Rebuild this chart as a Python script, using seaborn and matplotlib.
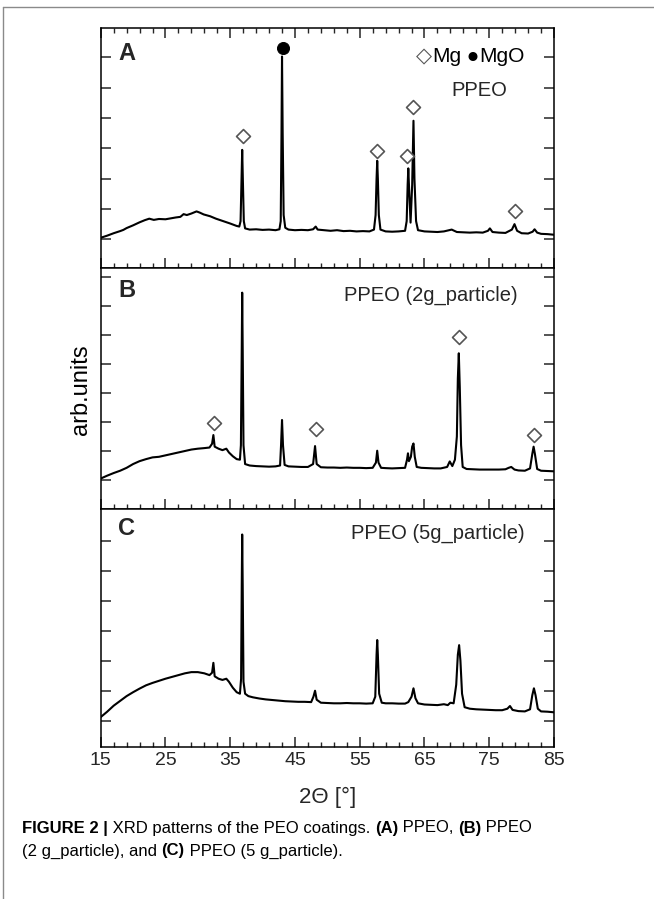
import matplotlib
matplotlib.use("Agg")
import matplotlib.pyplot as plt
from matplotlib.lines import Line2D
import seaborn as sns
import numpy as np

# ---------------- data ----------------
# Panel A : PPEO
A_x = [15.0, 16.0, 17.0, 18.0, 18.5, 19.0, 20.0, 21.0, 21.8, 22.5, 23.2, 24.0, 25.0, 25.8, 26.6,
       27.3, 27.8, 28.3, 29.0, 29.8, 30.3, 30.9, 31.9, 32.8, 33.9, 35.0, 36.0, 36.4,
       36.6, 36.75, 36.85, 36.95, 37.1, 37.3, 38.0, 39.0, 40.0, 41.0, 42.0, 42.6,
       42.8, 42.92, 43.0, 43.1, 43.25, 43.5, 44.0, 45.0, 46.0, 47.0, 47.8, 48.2, 48.5,
       49.5, 50.5, 51.5, 52.5, 53.5, 54.5, 55.5, 56.5, 57.2,
       57.45, 57.6, 57.7, 57.8, 57.95, 58.2, 59.0, 60.0, 61.0, 62.0,
       62.25, 62.4, 62.5, 62.6, 62.85, 63.1, 63.3, 63.45, 63.7, 64.0,
       65.0, 66.0, 67.0, 68.0, 69.2, 70.0, 71.0, 72.0, 73.0, 74.0, 74.8, 75.1, 75.5,
       76.5, 77.5, 78.5, 78.9, 79.3, 80.0, 81.0, 81.7, 82.0, 82.4, 83.0, 84.0, 85.0]
A_y = [0.05, 0.12, 0.20, 0.27, 0.31, 0.37, 0.46, 0.56, 0.63, 0.68, 0.64, 0.67, 0.66, 0.69, 0.72,
       0.74, 0.83, 0.80, 0.85, 0.92, 0.88, 0.82, 0.76, 0.68, 0.60, 0.52, 0.44, 0.42,
       0.60, 2.00, 2.95, 2.00, 0.60, 0.36, 0.32, 0.33, 0.31, 0.32, 0.30, 0.33,
       0.60, 3.50, 6.03, 3.50, 0.80, 0.38, 0.32, 0.30, 0.31, 0.30, 0.33, 0.42, 0.32,
       0.30, 0.28, 0.30, 0.27, 0.28, 0.26, 0.27, 0.26, 0.32,
       0.80, 2.00, 2.59, 2.00, 0.80, 0.32, 0.26, 0.25, 0.26, 0.28,
       0.60, 1.80, 2.34, 1.80, 0.55, 1.80, 3.91, 2.00, 0.60, 0.30,
       0.26, 0.25, 0.24, 0.26, 0.32, 0.24, 0.23, 0.22, 0.23, 0.22, 0.28, 0.36, 0.24,
       0.22, 0.21, 0.32, 0.50, 0.28, 0.20, 0.19, 0.25, 0.33, 0.22, 0.18, 0.17, 0.15]
A_mg_x = [36.9, 57.7, 62.3, 63.2, 79.0]
A_mg_y = [3.41, 2.92, 2.75, 4.36, 0.94]
A_mgo_x = [43.2]
A_mgo_y = [6.30]

# Panel B : PPEO (2g_particle)
B_x = [15.0, 16.0, 17.0, 18.0, 19.0, 20.0, 21.0, 22.0, 23.0, 24.0, 25.0, 26.0, 27.0, 28.0,
       29.0, 30.0, 31.0, 31.8, 32.2, 32.4, 32.6, 33.2, 33.8, 34.4, 34.8, 35.4, 36.0, 36.5,
       36.65, 36.78, 36.85, 36.93, 37.05, 37.3, 38.0, 39.0, 40.0, 41.0, 42.0, 42.7,
       42.85, 43.0, 43.15, 43.4, 44.0, 45.0, 46.0, 47.0, 47.8, 48.1, 48.35,
       49.0, 50.0, 51.0, 52.0, 53.0, 54.0, 55.0, 56.0, 57.0, 57.5, 57.7, 57.9, 58.3,
       59.0, 60.0, 61.0, 62.0, 62.3, 62.45, 62.6, 62.9, 63.1, 63.3, 63.5, 63.8,
       64.5, 65.5, 66.5, 67.5, 68.5, 68.9, 69.3, 69.7, 70.0, 70.15, 70.3, 70.45, 70.65, 70.9,
       71.5, 72.5, 73.5, 74.5, 75.5, 76.5, 77.5, 78.0, 78.4, 78.9, 79.5, 80.5, 81.3,
       81.65, 81.85, 82.05, 82.4, 83.0, 84.0, 85.0]
B_y = [0.05, 0.15, 0.24, 0.32, 0.42, 0.55, 0.65, 0.72, 0.78, 0.80, 0.85, 0.90, 0.95, 1.00,
       1.05, 1.08, 1.10, 1.12, 1.25, 1.55, 1.15, 1.08, 1.03, 1.08, 0.95, 0.82, 0.72, 0.70,
       1.20, 4.50, 6.46, 4.50, 1.20, 0.55, 0.50, 0.48, 0.47, 0.46, 0.47, 0.50,
       1.20, 2.07, 1.20, 0.52, 0.47, 0.46, 0.45, 0.45, 0.55, 1.17, 0.55,
       0.44, 0.43, 0.43, 0.42, 0.43, 0.42, 0.42, 0.41, 0.42, 0.60, 1.01, 0.60, 0.42,
       0.41, 0.40, 0.41, 0.42, 0.70, 0.92, 0.65, 0.80, 1.15, 1.26, 0.80, 0.45,
       0.42, 0.41, 0.40, 0.40, 0.45, 0.64, 0.48, 0.70, 1.50, 3.50, 4.37, 3.20, 1.20, 0.45,
       0.38, 0.37, 0.36, 0.36, 0.36, 0.36, 0.37, 0.42, 0.45, 0.36, 0.33, 0.32, 0.40,
       0.90, 1.15, 0.90, 0.38, 0.32, 0.31, 0.30]
B_mg_x = [32.5, 48.2, 70.3, 81.9]
B_mg_y = [1.98, 1.76, 4.94, 1.55]

# Panel C : PPEO (5g_particle)
C_x = [15.0, 16.0, 17.0, 18.0, 19.0, 20.0, 21.0, 22.0, 23.0, 24.0, 25.0, 26.0, 27.0, 28.0,
       29.0, 30.0, 31.0, 31.8, 32.2, 32.4, 32.6, 33.2, 33.8, 34.4, 34.8, 35.4, 36.0, 36.5,
       36.68, 36.78, 36.85, 36.93, 37.05, 37.3, 37.8, 38.5, 39.5, 40.5, 41.5, 42.5, 43.5,
       44.5, 45.5, 46.5, 47.5, 47.85, 48.1, 48.35, 49.0, 50.0, 51.0, 52.0, 53.0, 54.0,
       55.0, 56.0, 57.0, 57.4, 57.6, 57.7, 57.8, 58.0, 58.4, 59.0, 60.0, 61.0, 62.0,
       62.5, 63.0, 63.3, 63.6, 64.0, 65.0, 66.0, 67.0, 68.0, 68.6, 69.0, 69.5, 69.9,
       70.15, 70.35, 70.55, 70.8, 71.2, 72.0, 73.0, 74.0, 75.0, 76.0, 77.0, 77.8, 78.2,
       78.6, 79.5, 80.5, 81.3, 81.65, 81.9, 82.15, 82.5, 83.0, 84.0, 85.0]
C_y = [0.12, 0.30, 0.50, 0.66, 0.82, 0.95, 1.07, 1.18, 1.26, 1.33, 1.40, 1.46, 1.52, 1.58,
       1.62, 1.62, 1.58, 1.52, 1.60, 1.93, 1.48, 1.40, 1.36, 1.40, 1.30, 1.10, 0.95, 0.90,
       1.40, 4.50, 6.21, 4.50, 1.30, 0.90, 0.82, 0.78, 0.74, 0.71, 0.69, 0.67, 0.65,
       0.64, 0.63, 0.63, 0.62, 0.80, 1.00, 0.70, 0.60, 0.59, 0.58, 0.58, 0.59, 0.58,
       0.58, 0.57, 0.58, 0.80, 2.20, 2.69, 2.20, 0.90, 0.60, 0.58, 0.58, 0.57, 0.57,
       0.62, 0.80, 1.08, 0.75, 0.58, 0.54, 0.53, 0.52, 0.55, 0.52, 0.60, 0.58, 1.20,
       2.20, 2.52, 2.00, 0.90, 0.45, 0.40, 0.38, 0.37, 0.36, 0.35, 0.35, 0.40, 0.49,
       0.36, 0.32, 0.31, 0.38, 0.85, 1.08, 0.85, 0.40, 0.31, 0.30, 0.28]

panel_letters = ["A", "B", "C"]
panel_titles = ["PPEO", "PPEO (2g_particle)", "PPEO (5g_particle)"]
legend_labels = ["Mg", "MgO"]
x_ticks = [15, 25, 35, 45, 55, 65, 75, 85]
x_label = "2\u0398 [\u00b0]"
y_label = "arb.units"

# ---------------- figure ----------------
sns.set_style("ticks")
FONT = ["Liberation Sans", "DejaVu Sans"]
plt.rcParams["font.family"] = FONT
plt.rcParams["axes.linewidth"] = 1.1

W, H = 654, 899
fig = plt.figure(figsize=(W / 100, H / 100), dpi=100)

left, right = 100.7, 554.0
panels_px = [(27.7, 268.3), (268.3, 509.3), (509.3, 746.7)]
ylims = [(-0.957, 6.98), (-1.01, 7.3), (-0.867, 7.05)]
yticks = [range(0, 7), range(0, 8), range(0, 7)]
data = [(A_x, A_y), (B_x, B_y), (C_x, C_y)]
letter_pos = [0.891, 0.908, 0.919]
title_pos = [(0.835, 0.741), (0.728, 0.889), (0.744, 0.900)]

axes = []
for i, (top, bot) in enumerate(panels_px):
    ax = fig.add_axes([left / W, 1 - bot / H, (right - left) / W, (bot - top) / H])
    axes.append(ax)
    xs, ys = data[i]
    sns.lineplot(x=xs, y=ys, ax=ax, color="black", linewidth=1.5,
                 sort=False, estimator=None)
    ax.set_xlim(15, 85)
    ax.set_ylim(*ylims[i])
    ax.set_xticks(x_ticks)
    ax.set_xticks([t for t in range(15, 86) if (t - 15) % 2 == 0 and (t - 15) % 10 != 0], minor=True)
    ax.set_yticks(list(yticks[i]))
    ax.tick_params(axis="x", which="major", direction="in", length=7, width=1.1,
                   top=(i == 0), bottom=True, labelbottom=(i == 2), labelsize=14, pad=4)
    ax.tick_params(axis="x", which="minor", direction="in", length=3.5, width=1.0,
                   top=(i == 0), bottom=True)
    ax.tick_params(axis="y", which="major", direction="in", length=7, width=1.1,
                   left=True, right=True, labelleft=False)
    ax.set_xlabel("")
    ax.set_ylabel("")
    for s in ax.spines.values():
        s.set_color("black")
    ax.text(0.058, letter_pos[i], panel_letters[i], transform=ax.transAxes,
            fontsize=17, fontweight="bold", ha="center", va="center")
    ax.text(title_pos[i][0], title_pos[i][1], panel_titles[i], transform=ax.transAxes,
            fontsize=14.5, ha="center", va="center")

# peak markers
sns.scatterplot(x=A_mg_x, y=A_mg_y, ax=axes[0], marker="D", s=50,
                facecolor="white", edgecolor="#555555", linewidth=1.2, zorder=5)
sns.scatterplot(x=A_mgo_x, y=A_mgo_y, ax=axes[0], marker="o", s=75,
                color="black", edgecolor="black", zorder=5)
sns.scatterplot(x=B_mg_x, y=B_mg_y, ax=axes[1], marker="D", s=50,
                facecolor="white", edgecolor="#555555", linewidth=1.2, zorder=5)

fig.canvas.draw()
renderer = fig.canvas.get_renderer()


def rich(x_px, y_px, parts, size, family):
    x = x_px
    for s, weight, color in parts:
        t = fig.text(x / W, 1 - y_px / H, s, fontsize=size, fontweight=weight,
                     color=color, family=family, ha="left", va="center")
        bb = t.get_window_extent(renderer=renderer)
        x = bb.x1


# legend in panel A
rich(416, 57, [("\u25c7", "normal", "#555555"), (legend_labels[0], "normal", "black"),
               (" \u25cf", "normal", "black"), (legend_labels[1], "normal", "black")],
     15, FONT)

# axis labels
axes[2].set_xlabel(x_label, fontsize=16, va="center")
axes[2].xaxis.set_label_coords(0.5, -0.212)
fig.text(81 / W, 1 - 390 / H, y_label, rotation=90, fontsize=17,
         ha="center", va="center", color="black")

# frame lines (top and left)
fig.add_artist(Line2D([3 / W, 1.0], [1 - 7 / H, 1 - 7 / H], transform=fig.transFigure,
                      color="#8a8a8a", linewidth=1.0))
fig.add_artist(Line2D([3 / W, 3 / W], [0.0, 1 - 7 / H], transform=fig.transFigure,
                      color="#8a8a8a", linewidth=1.0))

# caption
CAP = ["Liberation Sans Narrow", "Liberation Sans", "DejaVu Sans"]
rich(22, 828, [("FIGURE 2 |", "bold", "black"), (" XRD patterns of the PEO coatings. ", "normal", "black"),
               ("(A)", "bold", "black"), (" PPEO, ", "normal", "black"),
               ("(B)", "bold", "black"), (" PPEO", "normal", "black")], 12, CAP)
rich(22, 851, [("(2 g_particle), and ", "normal", "black"), ("(C)", "bold", "black"),
               (" PPEO (5 g_particle).", "normal", "black")], 12, CAP)

fig.savefig("out.png", dpi=100)
